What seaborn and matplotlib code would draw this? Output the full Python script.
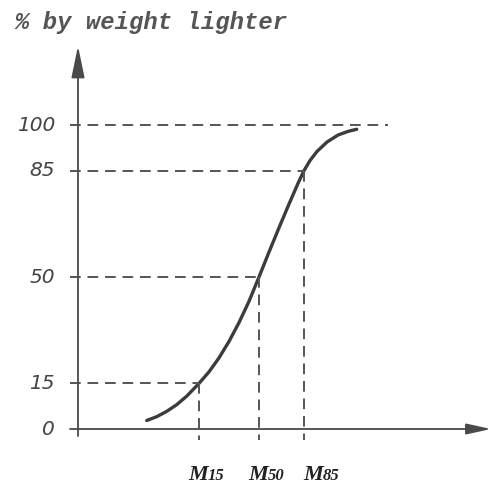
import matplotlib
matplotlib.use("Agg")
import matplotlib.pyplot as plt
import seaborn as sns
import pandas as pd

# ---- data ----
curve_x = [6.87, 7.87, 8.87, 9.87, 10.87, 12.1, 13.1, 14.1, 15.1, 16.1, 17.1, 18.1,
           19.1, 20.1, 21.1, 22.0, 22.6, 23.2, 23.9, 24.9, 26.0, 27.0, 27.87]
curve_y = [2.8, 4.05, 5.8, 8.0, 10.8, 15.0, 18.8, 23.4, 28.8, 35.0, 42.0, 50.0,
           58.2, 66.2, 74.0, 80.8, 85.0, 88.3, 91.3, 94.4, 96.7, 97.9, 98.6]
ref_levels = [15, 50, 85]
ref_x = [12.1, 18.1, 22.6]
ref_names = ["15", "50", "85"]
ytick_vals = [0, 15, 50, 85, 100]
ytick_labels = ["0", "15", "50", "85", "100"]
title_text = "% by weight lighter"

sns.set_style("white")
fig = plt.figure(figsize=(4.91, 4.84), dpi=100)
ax = fig.add_axes([0, 0, 1, 1])
ax.set_xlim(-7.8, 41.3)
ax.set_ylim(-18.09, 141.12)
ax.axis("off")

ink = "#4a4a4a"
dash_kw = dict(color="#555555", lw=1.4, dashes=(5.5, 3.5))

df = pd.DataFrame({"x": curve_x, "y": curve_y})
sns.lineplot(data=df, x="x", y="y", ax=ax, color="#3c3c3c", lw=2.4, sort=True)

# axes with arrows
ax.annotate("", xy=(0, 126), xytext=(0, -2.3),
            arrowprops=dict(arrowstyle="-|>,head_length=1.3,head_width=0.27",
                            mutation_scale=15, color=ink, lw=1.3, shrinkA=0, shrinkB=0))
ax.annotate("", xy=(41.3, 0), xytext=(-0.8, 0),
            arrowprops=dict(arrowstyle="-|>,head_length=1.0,head_width=0.22",
                            mutation_scale=15, color=ink, lw=1.3, shrinkA=0, shrinkB=0))

# dashed reference lines
for lvl, mx in zip(ref_levels, ref_x):
    ax.plot([-0.8, mx], [lvl, lvl], **dash_kw)
    ax.plot([mx, mx], [lvl, -3.6], **dash_kw)
ax.plot([-0.8, 31.0], [100, 100], **dash_kw)

# y tick labels
for v, lab in zip(ytick_vals, ytick_labels):
    ax.text(-2.3, v, lab, ha="right", va="center", fontsize=14.5,
            style="italic", color="#444444", family="DejaVu Sans")

# title
ax.text(-6.3, 133.6, title_text, ha="left", va="center", fontsize=17.2,
        family="Liberation Mono", style="italic", weight="bold", color="#555555")

# M labels
m_pos = [13.0, 19.0, 24.5]
for mx, nm in zip(m_pos, ref_names):
    ax.text(mx, -16.9, "M", ha="right", va="baseline", fontsize=16,
            family="Liberation Serif", style="italic", weight="bold", color="#222222")
    ax.text(mx, -16.9, nm, ha="left", va="baseline", fontsize=12,
            family="Liberation Serif", style="italic", weight="bold", color="#222222")

fig.savefig("out.png", dpi=100)
